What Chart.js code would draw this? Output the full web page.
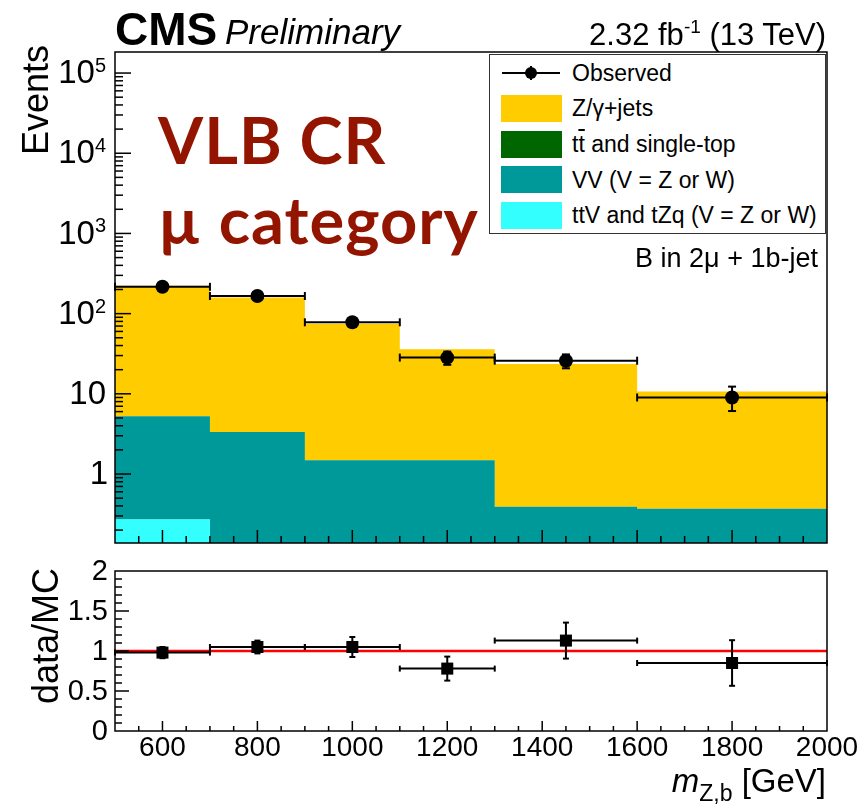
<!DOCTYPE html>
<html>
<head>
<meta charset="utf-8">
<script src="https://cdn.jsdelivr.net/npm/chart.js@4.4.1/dist/chart.umd.min.js"></script>
<style>
  body { margin: 0; background: #fff; }
  #wrap { position: relative; width: 865px; height: 805px; overflow: hidden; font-family: "Liberation Sans", Arial, sans-serif; }
  canvas { position: absolute; left: 0; }
  .t { position: absolute; white-space: nowrap; line-height: 1; color: #000; }
  .lbl { font-family: Lato, "Liberation Sans", sans-serif; font-weight: 700; font-size: 65px; letter-spacing: 1px; color: #931500; }
  .sw { position: absolute; left: 501px; width: 61px; height: 27px; }
  .leg { font-size: 23px; left: 572px; }
</style>
</head>
<body>
<div id="wrap">
  <canvas id="top" width="865" height="560" style="top:0"></canvas>
  <canvas id="ratio" width="865" height="245" style="top:560px"></canvas>

  <div class="t" style="left:115px; top:6px; font-size:46px; font-weight:700;">CMS</div>
  <div class="t" style="left:225px; top:14px; font-size:35px; font-style:italic;">Preliminary</div>
  <div class="t" style="right:39px; top:19px; font-size:31px;">2.32 fb<span style="font-size:19px; position:relative; top:-12px;">-1</span> (13 TeV)</div>

  <div class="t lbl" style="left:158px; top:107px;">VLB CR</div>
  <div class="t lbl" style="left:158px; top:187px;">µ category</div>
  <div class="t" style="right:47px; top:245px; font-size:27px;">B in 2μ + 1b-jet</div>

  <div style="position:absolute; left:489px; top:54px; width:337px; height:180px; box-sizing:border-box; border:1px solid #333; background:#fff;"></div>
  <div style="position:absolute; left:502px; top:72px; width:58px; height:2px; background:#000;"></div>
  <div style="position:absolute; left:530px; top:66px; width:2px; height:14px; background:#000;"></div>
  <div style="position:absolute; left:525px; top:67px; width:12px; height:12px; border-radius:50%; background:#000;"></div>
  <div class="sw" style="top:95px; background:#ffcc00;"></div>
  <div class="sw" style="top:131px; background:#006600;"></div>
  <div class="sw" style="top:166px; background:#009999;"></div>
  <div class="sw" style="top:202px; background:#33ffff;"></div>
  <div class="t leg" style="top:62px;">Observed</div>
  <div class="t leg" style="top:97px;">Z/γ+jets</div>
  <div class="t leg" style="top:133px;">t<span style="text-decoration:overline">t</span> and single-top</div>
  <div class="t leg" style="top:169px;">VV (V = Z or W)</div>
  <div class="t leg" style="top:204px;">ttV and tZq (V = Z or W)</div>
</div>

<script>
// bins in m_Z,b [GeV]
const binEdges = [500, 700, 900, 1100, 1300, 1600, 2000];
const binCenters = [600, 800, 1000, 1200, 1450, 1800];

// expected yields per bin
const ttvYield = [0.27, 0.05, 0.04, 0.03, 0.02, 0.02];
const vvYield = [5.0, 3.3, 1.45, 1.45, 0.37, 0.35];
const ttbarYield = [0, 0, 0, 0, 0, 0];
const zjetsYield = [218, 155, 73.5, 34.5, 23.1, 10.3];

// data
const observed = [216, 166, 78, 28.3, 25.9, 9.0];
const observedErrLo = [14.7, 12.9, 8.8, 5.3, 5.1, 2.9];
const observedErrHi = [14.7, 12.9, 8.8, 5.3, 5.1, 3.3];

// data / MC
const ratio = [0.98, 1.05, 1.05, 0.78, 1.13, 0.85];
const ratioErr = [0.07, 0.08, 0.125, 0.15, 0.225, 0.285];
const refEdges = [500, 2000];
const refValue = 1;

// axis tick labels
const logTickExps = [0, 1, 2, 3, 4, 5];
const ratioTicks = [0, 0.5, 1, 1.5, 2];
const xTicks = [600, 800, 1000, 1200, 1400, 1600, 1800, 2000];

const add = (a, b) => a.map((v, i) => v + b[i]);
const cumTtv = ttvYield;
const cumVV = add(cumTtv, vvYield);
const cumTt = add(cumVV, ttbarYield);
const cumZ = add(cumTt, zjetsYield);
// histogram as stepped line: one point per left edge, last value repeated at the right edge
const steps = vals => binEdges.map((x, i) => ({ x, y: vals[Math.min(i, vals.length - 1)] }));

const FONT = '"Liberation Sans", Arial, sans-serif';

function line(ctx, x0, y0, x1, y1) {
    ctx.beginPath();
    ctx.moveTo(x0, y0);
    ctx.lineTo(x1, y1);
    ctx.stroke();
}

function vTitle(ctx, text, xBase, yEnd) {
    ctx.save();
    ctx.translate(xBase, yEnd);
    ctx.rotate(-Math.PI / 2);
    ctx.font = '36px ' + FONT;
    ctx.textAlign = 'right';
    ctx.textBaseline = 'alphabetic';
    ctx.fillText(text, 0, 0);
    ctx.restore();
}

function errorBars(vals, lo, hi, capH, capV) {
    return {
        id: 'errorBars',
        afterDatasetsDraw(chart) {
            const { ctx, scales: { x, y } } = chart;
            ctx.save();
            ctx.strokeStyle = '#000';
            ctx.lineWidth = 2;
            binCenters.forEach((c, i) => {
                const px = x.getPixelForValue(c);
                const py = y.getPixelForValue(vals[i]);
                const x0 = x.getPixelForValue(binEdges[i]);
                const x1 = x.getPixelForValue(binEdges[i + 1]);
                line(ctx, x0, py, x1, py);
                line(ctx, x0, py - capH, x0, py + capH);
                line(ctx, x1, py - capH, x1, py + capH);
                const yLo = y.getPixelForValue(vals[i] - lo[i]);
                const yHi = y.getPixelForValue(vals[i] + hi[i]);
                line(ctx, px, yLo, px, yHi);
                line(ctx, px - capV, yLo, px + capV, yLo);
                line(ctx, px - capV, yHi, px + capV, yHi);
            });
            ctx.restore();
        }
    };
}

function xMinorTicks(ctx, x, a, majorLen, minorLen) {
    for (let v = 550; v < 2000; v += 50) {
        const px = x.getPixelForValue(v);
        const len = v % 200 === 0 ? majorLen : minorLen;
        line(ctx, px, a.bottom, px, a.bottom - len);
    }
}

const topAxes = {
    id: 'topAxes',
    afterDraw(chart) {
        const { ctx, chartArea: a, scales: { x, y } } = chart;
        ctx.save();
        ctx.strokeStyle = '#000';
        ctx.lineWidth = 1.5;
        xMinorTicks(ctx, x, a, 13, 7);
        for (let e = -1; e <= 5; e++) {
            for (let m = 1; m <= 9; m++) {
                const v = m * Math.pow(10, e);
                if (v < y.min || v > y.max) continue;
                const py = y.getPixelForValue(v);
                line(ctx, a.left, py, a.left + (m === 1 ? 16 : 8), py);
            }
        }
        ctx.strokeRect(a.left, a.top, a.right - a.left, a.bottom - a.top);

        ctx.fillStyle = '#000';
        ctx.textBaseline = 'middle';
        ctx.textAlign = 'left';
        logTickExps.forEach(e => {
            const py = y.getPixelForValue(Math.pow(10, e));
            const right = 106;
            ctx.font = '33px ' + FONT;
            if (e < 2) {
                const s = e === 0 ? '1' : '10';
                const w = ctx.measureText(s).width;
                ctx.fillText(s, right + (e === 0 ? 2 : 0) - w, py + 1);
            } else {
                const wb = ctx.measureText('10').width;
                ctx.font = '20px ' + FONT;
                const ws = ctx.measureText(String(e)).width;
                const x0 = right - wb - ws;
                ctx.textBaseline = 'alphabetic';
                ctx.fillText(String(e), x0 + wb, py - 1);
                ctx.font = '33px ' + FONT;
                ctx.textBaseline = 'middle';
                ctx.fillText('10', x0, py + 1);
            }
        });
        vTitle(ctx, 'Events', 48, 45);
        ctx.restore();
    }
};

const ratioAxes = {
    id: 'ratioAxes',
    afterDraw(chart) {
        const { ctx, chartArea: a, scales: { x, y } } = chart;
        ctx.save();
        ctx.strokeStyle = '#000';
        ctx.lineWidth = 1.5;
        xMinorTicks(ctx, x, a, 10, 5);
        for (let k = 1; k < 20; k++) {
            const py = y.getPixelForValue(k / 10);
            line(ctx, a.left, py, a.left + (k % 5 === 0 ? 14 : 7), py);
        }
        ctx.strokeRect(a.left, a.top, a.right - a.left, a.bottom - a.top);

        ctx.fillStyle = '#000';
        ctx.font = '29px ' + FONT;
        ctx.textAlign = 'right';
        ctx.textBaseline = 'middle';
        ratioTicks.forEach(v => ctx.fillText(String(v), 108, y.getPixelForValue(v) + 1));

        ctx.font = '28px ' + FONT;
        ctx.textAlign = 'center';
        ctx.textBaseline = 'alphabetic';
        xTicks.forEach(v => ctx.fillText(String(v), x.getPixelForValue(v), a.bottom + 25));

        // x title: m_{Z,b} [GeV], right aligned
        const base = a.bottom + 61;
        ctx.textAlign = 'left';
        ctx.font = '33px ' + FONT;
        const wUnit = ctx.measureText(' [GeV]').width;
        ctx.font = '23px ' + FONT;
        const wSub = ctx.measureText('Z,b').width;
        ctx.font = 'italic 33px ' + FONT;
        const wM = ctx.measureText('m').width;
        let xx = 826 - wUnit - wSub - wM;
        ctx.fillText('m', xx, base);
        xx += wM;
        ctx.font = '23px ' + FONT;
        ctx.fillText('Z,b', xx, base + 9);
        xx += wSub;
        ctx.font = '33px ' + FONT;
        ctx.fillText(' [GeV]', xx, base);

        vTitle(ctx, 'data/MC', 58, 8);
        ctx.restore();
    }
};

const common = {
    responsive: false,
    animation: false,
    devicePixelRatio: 1,
    plugins: { legend: { display: false }, tooltip: { enabled: false } }
};

const stackSet = (label, vals, fill, color) => ({
    label, data: steps(vals), fill, stepped: true,
    backgroundColor: color, borderColor: 'rgba(0,0,0,0)', borderWidth: 0,
    pointRadius: 0, order: 1
});

new Chart(document.getElementById('top'), {
    type: 'line',
    data: {
        datasets: [
            stackSet('ttV and tZq (V = Z or W)', cumTtv, 'start', '#33ffff'),
            stackSet('VV (V = Z or W)', cumVV, '-1', '#009999'),
            stackSet('tt and single-top', cumTt, '-1', '#006600'),
            stackSet('Z/γ+jets', cumZ, '-1', '#ffcc00'),
            {
                label: 'Observed',
                data: binCenters.map((x, i) => ({ x, y: observed[i] })),
                showLine: false, pointRadius: 7, pointBorderWidth: 0,
                pointBackgroundColor: '#000', order: 0
            }
        ]
    },
    options: {
        ...common,
        layout: { padding: { left: 115, right: 38, top: 52, bottom: 17 } },
        scales: {
            x: { type: 'linear', min: 500, max: 2000, display: false },
            y: { type: 'logarithmic', min: 0.138, max: 1.83e5, display: false }
        }
    },
    plugins: [topAxes, errorBars(observed, observedErrLo, observedErrHi, 4, 4)]
});

new Chart(document.getElementById('ratio'), {
    type: 'line',
    data: {
        datasets: [
            {
                label: 'data/MC',
                data: binCenters.map((x, i) => ({ x, y: ratio[i] })),
                showLine: false, pointStyle: 'rect', pointRadius: 8.5, pointBorderWidth: 0,
                pointBackgroundColor: '#000', order: 0
            },
            {
                label: 'unity',
                data: refEdges.map(x => ({ x, y: refValue })),
                borderColor: '#ff0000', borderWidth: 2.5, pointRadius: 0, order: 1
            }
        ]
    },
    options: {
        ...common,
        layout: { padding: { left: 115, right: 38, top: 11, bottom: 74 } },
        scales: {
            x: { type: 'linear', min: 500, max: 2000, display: false },
            y: { type: 'linear', min: 0, max: 2, display: false }
        }
    },
    plugins: [ratioAxes, errorBars(ratio, ratioErr, ratioErr, 3, 3)]
});
</script>
</body>
</html>
